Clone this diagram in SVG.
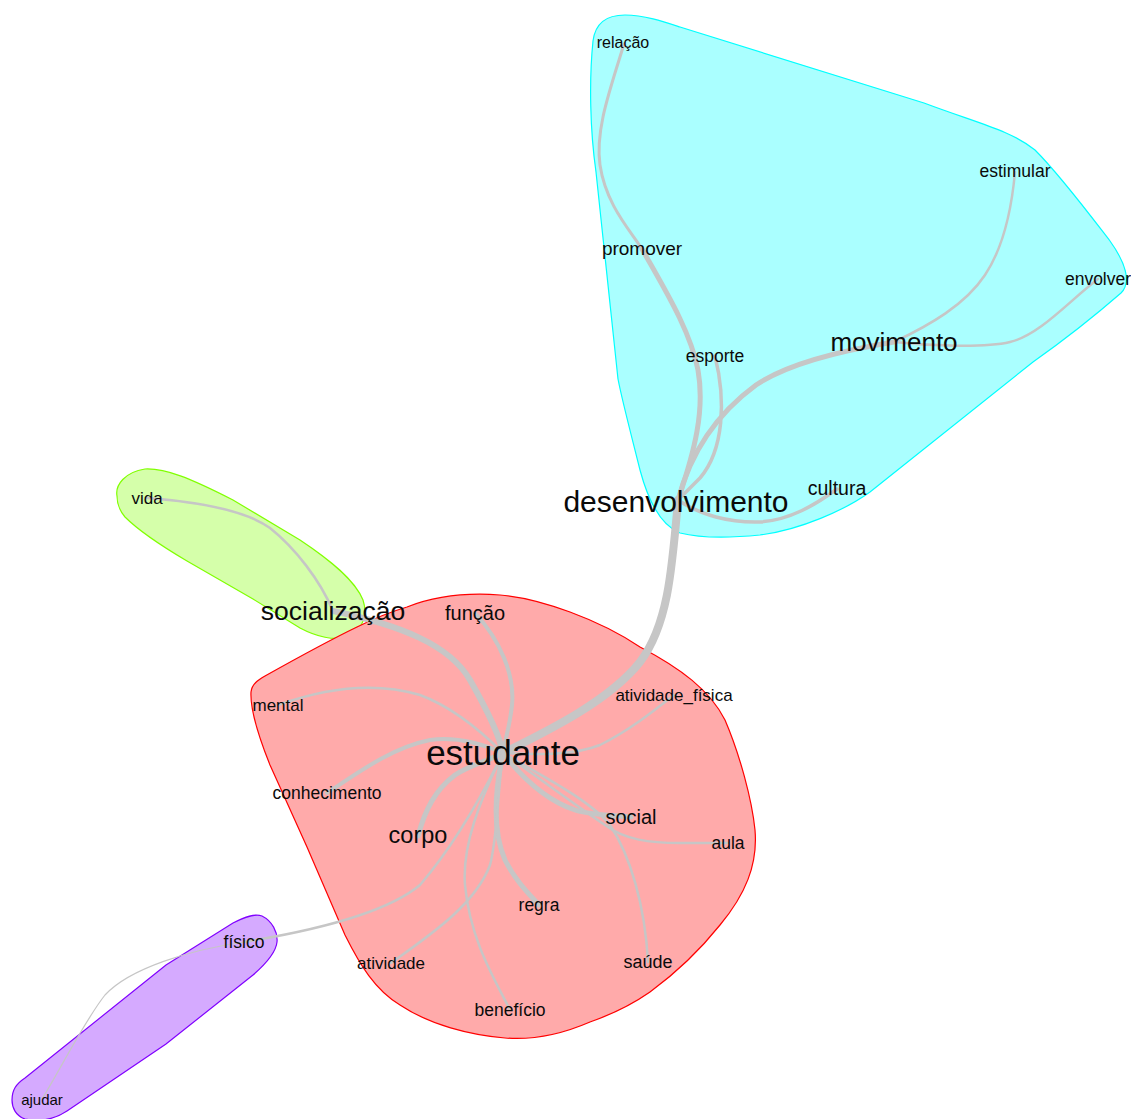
<svg xmlns="http://www.w3.org/2000/svg" width="1131" height="1119" viewBox="0 0 1131 1119">
<style>
.hull{stroke-width:1.2}
.e{fill:none;stroke:#c6c6c6;stroke-linecap:round;stroke-linejoin:round}
text{font-family:"Liberation Sans",Arial,sans-serif;fill:#0a0a0a;text-anchor:middle}
</style>
<rect width="1131" height="1119" fill="#ffffff"/>
<g id="hulls">
<path id="hull-cyan" class="hull" fill="#aaffff" stroke="#00ffff" d="M625,15 C645,15 665,22 680,27 L924,103 C980,124 1010,130 1035,150 C1060,175 1090,215 1110,241 C1125,262 1132,282 1121,293 C1090,320 1050,350 1033,362 L870,492 C845,510 800,530 760,535 C730,538 700,538 680,533 C660,525 648,500 640,470 C630,430 622,400 618,379 L596,172 C590,130 589,80 593,41 C595,25 605,15 625,15 Z"/>
<path id="hull-green" class="hull" fill="#d5ffaa" stroke="#80ff00" d="M117,496 C115,485 125,472 145,469 C165,468 190,478 233,500 L300,540 C330,560 355,580 363,600 C368,615 362,630 350,636 C335,642 315,636 300,628 L253,599 L187,561 C165,548 140,532 125,517 C119,510 117,503 117,496 Z"/>
<path id="hull-red" class="hull" fill="#ffaaaa" stroke="#ff0000" d="M407,607 C430,598 460,592 500,595 C540,598 600,620 640,647 C680,668 710,690 725,720 C740,755 752,800 755,830 C758,865 745,895 720,925 C700,950 680,970 650,992 C630,1006 610,1015 590,1022 C560,1035 530,1040 505,1038 C470,1035 430,1025 400,1005 C375,990 360,965 345,935 L307,847 L270,765 C260,740 250,710 251,692 C252,684 258,680 265,676 C290,662 330,640 357,627 C375,618 390,612 407,607 Z"/>
<path id="hull-purple" class="hull" fill="#d5aaff" stroke="#8000ff" d="M12,1100 C12,1090 16,1084 25,1078 L166,965 L233,923 C245,917 255,913 262,916 C272,921 278,932 277,942 C276,952 268,962 253,975 L166,1044 L67,1111 C55,1119 40,1122 25,1119 C16,1116 12,1108 12,1100 Z"/>
</g>
<g id="connectors">
<path class="e" stroke-width="8" d="M678,500 C672,570 668,625 640,662 C610,700 550,730 503,753"/>
<path class="e" stroke-width="5" d="M678,500 C690,455 715,415 756,385 C790,362 845,350 894,342"/>
<path class="e" stroke-width="3.5" d="M715,356 C726,400 724,450 700,478 Q688,490 678,500"/>
<path class="e" stroke-width="5" d="M642,249 C665,290 690,330 698,370 C705,410 695,450 678,500"/>
<path class="e" stroke-width="3" d="M624,44 C610,90 595,130 600,165 C606,205 630,230 642,249"/>
<path class="e" stroke-width="3.5" d="M678,500 C700,515 730,523 760,522 C790,520 815,505 837,489"/>
<path class="e" stroke-width="2.5" d="M894,342 C930,325 965,305 985,275 C1005,245 1012,205 1015,172"/>
<path class="e" stroke-width="2.5" d="M894,342 C930,346 985,348 1010,342 C1040,335 1070,300 1098,279"/>
<path class="e" stroke-width="2.5" d="M147,498 C200,502 245,510 270,528 C295,548 320,580 333,611"/>
<path class="e" stroke-width="6" d="M333,611 C400,625 450,645 470,680 C490,715 500,738 503,753"/>
<path class="e" stroke-width="4" d="M475,613 C500,640 515,675 512,705 C510,725 505,740 503,753"/>
<path class="e" stroke-width="2.5" d="M278,705 C320,690 370,680 420,695 C455,708 485,735 503,753"/>
<path class="e" stroke-width="4" d="M327,793 C355,775 390,748 430,740 C460,736 485,745 503,753"/>
<path class="e" stroke-width="5" d="M418,836 C425,810 435,790 455,775 C470,765 490,760 503,753"/>
<path class="e" stroke-width="2.5" d="M503,753 C540,755 575,755 600,745 C630,730 655,710 674,695"/>
<path class="e" stroke-width="5" d="M503,753 C520,775 545,800 575,810 C590,815 610,815 631,817"/>
<path class="e" stroke-width="2.5" d="M503,753 C535,775 575,805 605,825 C625,840 650,843 680,843 L728,843"/>
<path class="e" stroke-width="2.5" d="M503,753 C540,775 590,800 610,825 C630,855 645,905 648,962"/>
<path class="e" stroke-width="5" d="M503,753 C495,790 492,830 505,860 C515,880 528,893 539,905"/>
<path class="e" stroke-width="2.5" d="M503,753 C480,800 462,845 465,885 C470,940 495,980 510,1010"/>
<path class="e" stroke-width="2.5" d="M503,753 C497,800 497,840 490,865 C475,905 430,935 391,963"/>
<path class="e" stroke-width="2.5" d="M503,753 C480,800 450,850 420,885 C390,910 330,928 244,942"/>
<path class="e" stroke-width="1.2" d="M244,942 C190,950 130,968 105,995 C85,1020 60,1070 42,1099"/>
</g>
<g id="n-relacao"><text x="623" y="48" font-size="16">relação</text></g>
<g id="n-estimular"><text x="1015" y="177" font-size="17.5">estimular</text></g>
<g id="n-promover"><text x="642" y="255" font-size="19">promover</text></g>
<g id="n-envolver"><text x="1098" y="285" font-size="17.5">envolver</text></g>
<g id="n-movimento"><text x="894" y="351" font-size="26">movimento</text></g>
<g id="n-esporte"><text x="715" y="362" font-size="17.5">esporte</text></g>
<g id="n-cultura"><text x="837" y="495" font-size="19.5">cultura</text></g>
<g id="n-desenvolvimento"><text x="676" y="512" font-size="30">desenvolvimento</text></g>
<g id="n-vida"><text x="147" y="504" font-size="17">vida</text></g>
<g id="n-socializacao"><text x="333" y="620" font-size="26.5">socialização</text></g>
<g id="n-funcao"><text x="475" y="620" font-size="20">função</text></g>
<g id="n-mental"><text x="278" y="711" font-size="17">mental</text></g>
<g id="n-atividade_fisica"><text x="674" y="701" font-size="17">atividade_física</text></g>
<g id="n-estudante"><text x="503" y="765" font-size="35">estudante</text></g>
<g id="n-conhecimento"><text x="327" y="799" font-size="17.5">conhecimento</text></g>
<g id="n-social"><text x="631" y="824" font-size="20">social</text></g>
<g id="n-corpo"><text x="418" y="843" font-size="23.5">corpo</text></g>
<g id="n-aula"><text x="728" y="849" font-size="17.5">aula</text></g>
<g id="n-regra"><text x="539" y="911" font-size="17.5">regra</text></g>
<g id="n-fisico"><text x="244" y="948" font-size="17.5">físico</text></g>
<g id="n-atividade"><text x="391" y="969" font-size="17">atividade</text></g>
<g id="n-saude"><text x="648" y="968" font-size="18">saúde</text></g>
<g id="n-beneficio"><text x="510" y="1016" font-size="17.5">benefício</text></g>
<g id="n-ajudar"><text x="42" y="1105" font-size="15">ajudar</text></g>
</svg>
